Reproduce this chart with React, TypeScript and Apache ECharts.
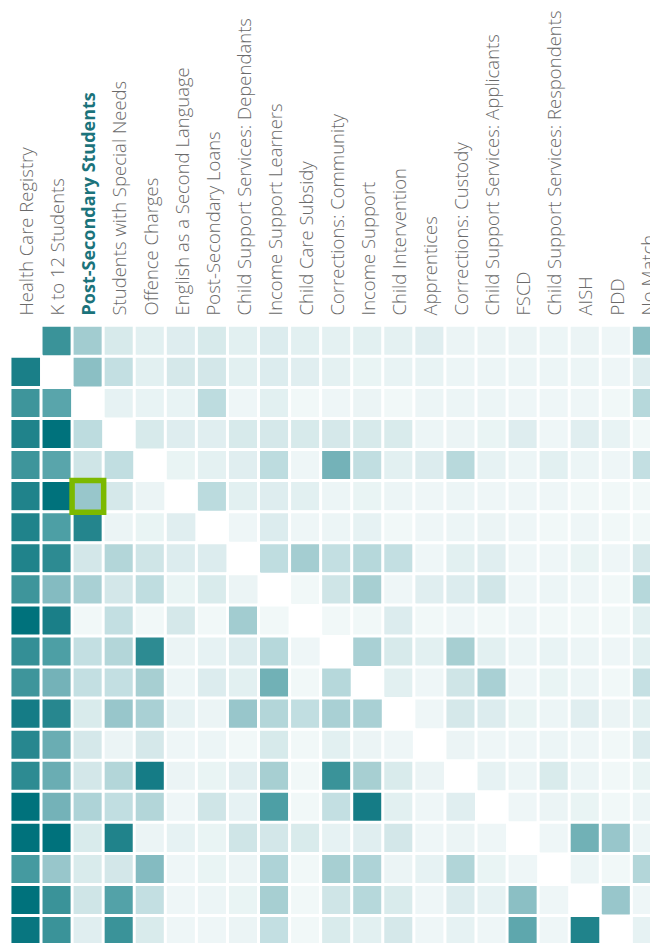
import React, { useEffect, useRef } from "react";
import * as echarts from "echarts";

const categories = [
  "Health Care Registry",
  "K to 12 Students",
  "Post-Secondary Students",
  "Students with Special Needs",
  "Offence Charges",
  "English as a Second Language",
  "Post-Secondary Loans",
  "Child Support Services: Dependants",
  "Income Support Learners",
  "Child Care Subsidy",
  "Corrections: Community",
  "Income Support",
  "Child Intervention",
  "Apprentices",
  "Corrections: Custody",
  "Child Support Services: Applicants",
  "FSCD",
  "Child Support Services: Respondents",
  "AISH",
  "PDD",
  "No Match",
];

const highlightedColumn = "Post-Secondary Students";
const highlightedRow = "English as a Second Language";

// Overlap share (%) of each row population found in each column dataset
const rowHealthCare = [null, 80, 41, 17, 12, 14, 17, 12, 15, 12, 11, 12, 11, 13, 7, 7, 7, 6, 7, 5, 50];
const rowKto12 = [90, null, 50, 27, 12, 18, 19, 12, 15, 13, 11, 8, 9, 9, 6, 6, 6, 6, 6, 5, 14];
const rowPostSecondary = [78, 66, null, 10, 9, 9, 30, 5, 12, 3, 5, 7, 3, 6, 6, 6, 5, 5, 5, 3, 33];
const rowSpecialNeeds = [88, 100, 30, null, 17, 14, 13, 17, 18, 17, 18, 17, 16, 6, 7, 8, 14, 5, 13, 9, 3];
const rowOffence = [78, 66, 21, 28, null, 8, 11, 13, 30, 5, 57, 28, 12, 15, 32, 10, 6, 12, 6, 5, 27];
const rowESL = [88, 100, 45, 18, 7, null, 31, 12, 14, 12, 6, 8, 6, 5, 6, 5, 5, 5, 3, 3, 3];
const rowPSLoans = [88, 70, 87, 7, 8, 13, null, 5, 15, 5, 6, 10, 3, 5, 6, 7, 5, 3, 5, 3, 3];
const rowCSSDependants = [88, 84, 19, 34, 21, 15, 15, null, 29, 40, 27, 33, 27, 5, 12, 13, 5, 5, 8, 5, 18];
const rowISLearners = [78, 52, 38, 19, 29, 8, 16, 7, null, 3, 21, 39, 5, 13, 15, 20, 5, 6, 5, 3, 33];
const rowChildCare = [100, 90, 3, 27, 3, 18, 3, 41, 3, null, 3, 3, 15, 3, 5, 3, 5, 3, 3, 3, 12];
const rowCorrCommunity = [82, 70, 27, 34, 84, 7, 10, 15, 33, 5, null, 38, 17, 12, 39, 12, 6, 9, 6, 5, 12];
const rowIncomeSupport = [78, 57, 27, 27, 39, 6, 15, 12, 58, 3, 33, null, 12, 5, 21, 38, 5, 8, 6, 3, 26];
const rowChildIntervention = [92, 86, 16, 45, 38, 10, 7, 45, 34, 28, 38, 38, null, 5, 18, 15, 8, 6, 13, 7, 12];
const rowApprentices = [86, 60, 18, 7, 18, 5, 6, 3, 17, 3, 12, 7, 5, null, 7, 5, 5, 6, 5, 3, 15];
const rowCorrCustody = [84, 60, 19, 34, 92, 7, 8, 13, 39, 3, 80, 39, 16, 7, null, 10, 6, 16, 6, 3, 8];
const rowCSSApplicants = [100, 57, 36, 28, 34, 5, 21, 10, 70, 3, 27, 92, 12, 5, 13, null, 5, 7, 8, 3, 6];
const rowFSCD = [100, 100, 16, 88, 7, 10, 8, 21, 19, 16, 10, 13, 19, 5, 7, 5, null, 5, 58, 45, 6];
const rowCSSRespondents = [74, 45, 16, 19, 52, 5, 8, 7, 36, 3, 39, 36, 7, 10, 35, 8, 5, null, 6, 3, 34];
const rowAISH = [100, 80, 21, 68, 27, 5, 6, 8, 39, 3, 21, 33, 16, 5, 15, 10, 50, 5, null, 45, 5];
const rowPDD = [97, 80, 13, 80, 16, 5, 5, 7, 27, 3, 16, 12, 18, 5, 10, 5, 64, 5, 88, null, 10];

const matrix: (number | null)[][] = [
  rowHealthCare, rowKto12, rowPostSecondary, rowSpecialNeeds, rowOffence, rowESL,
  rowPSLoans, rowCSSDependants, rowISLearners, rowChildCare, rowCorrCommunity,
  rowIncomeSupport, rowChildIntervention, rowApprentices, rowCorrCustody,
  rowCSSApplicants, rowFSCD, rowCSSRespondents, rowAISH, rowPDD,
];

const colorStops = [
  "#f6fafa", "#e6f2f3", "#d1e6e8", "#bddcdf", "#a4cdd1", "#8bbfc4",
  "#6aadb3", "#4d9fa5", "#3a9399", "#1a7f88", "#00727c",
];

export default function App() {
  const ref = useRef<HTMLDivElement>(null);
  useEffect(() => {
    if (!ref.current) return;
    const chart = echarts.init(ref.current, null, { renderer: "svg" });
    const hiX = categories.indexOf(highlightedColumn);
    const hiY = categories.indexOf(highlightedRow);
    const cells: any[] = [];
    let hiCell: any = null;
    matrix.forEach((row, y) => {
      row.forEach((v, x) => {
        if (v === null) return;
        if (x === hiX && y === hiY) {
          hiCell = {
            value: [x, y, v],
            itemStyle: { borderColor: "#7cb900", borderWidth: 5.5 },
          };
        } else {
          cells.push([x, y, v]);
        }
      });
    });
    if (hiCell) cells.push(hiCell);

    const pitch = 31.07;
    chart.setOption({
      animation: false,
      backgroundColor: "#ffffff",
      grid: {
        left: 10.2,
        top: 325.5,
        width: pitch * categories.length,
        height: pitch * categories.length,
        containLabel: false,
        outerBoundsMode: "none",
      },
      xAxis: {
        type: "category",
        position: "top",
        data: categories,
        axisLine: { show: false },
        axisTick: { show: false },
        splitLine: { show: false },
        axisLabel: {
          rotate: -90,
          interval: 0,
          margin: 10,
          hideOverlap: false,
          formatter: (v: string) => (v === highlightedColumn ? `{b|${v}}` : `{a|${v}}`),
          rich: {
            a: { fontFamily: "Open Sans", fontSize: 18.5, fontWeight: 300, color: "#6a6a6a" },
            b: { fontFamily: "Open Sans", fontSize: 18, fontWeight: "bold", color: "#1b737b" },
          },
        },
      },
      yAxis: {
        type: "category",
        data: categories,
        inverse: true,
        axisLine: { show: false },
        axisTick: { show: false },
        axisLabel: { show: false },
        splitLine: { show: false },
      },
      visualMap: {
        show: false,
        type: "continuous",
        min: 0,
        max: 100,
        dimension: 2,
        inRange: { color: colorStops },
      },
      series: [
        {
          type: "heatmap",
          data: cells,
          itemStyle: { borderColor: "#ffffff", borderWidth: 3 },
          emphasis: { disabled: true },
        },
      ],
    });
    return () => chart.dispose();
  }, []);
  return (
    <div
      ref={ref}
      style={{ position: "fixed", left: 0, top: 0, width: 650, height: 943 }}
    />
  );
}
